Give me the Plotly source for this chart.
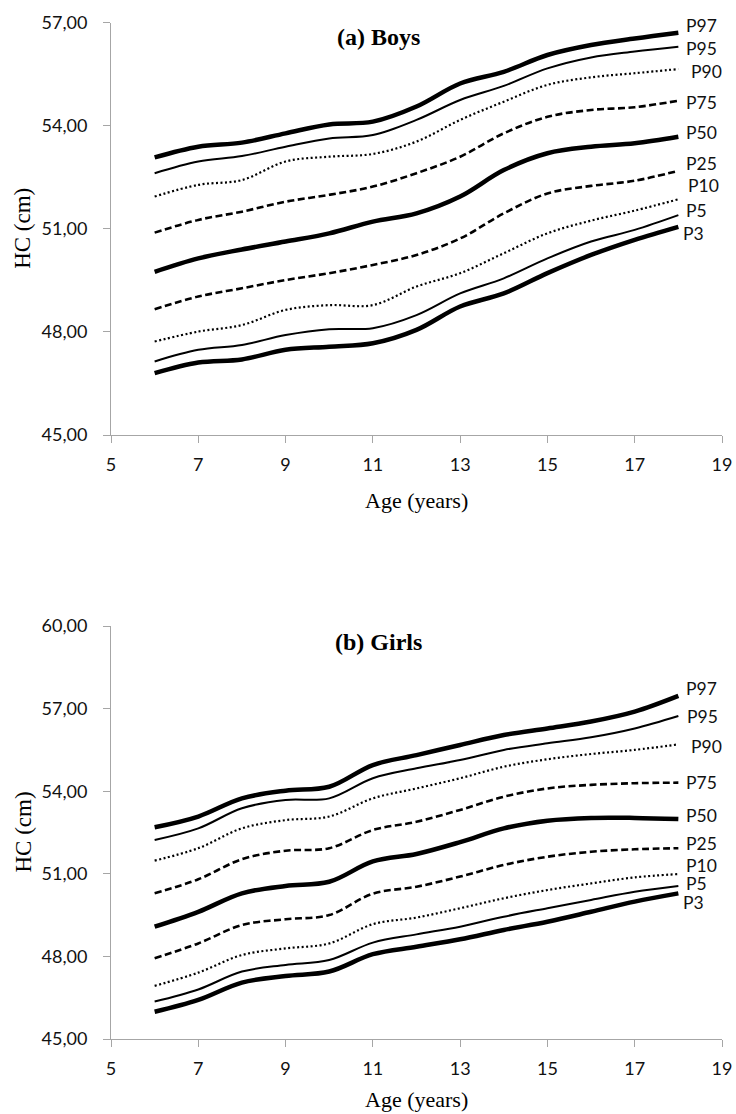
import plotly.graph_objects as go

ages = [6, 7, 8, 9, 10, 11, 12, 13, 14, 15, 16, 17, 18]
percentiles = ["P97", "P95", "P90", "P75", "P50", "P25", "P10", "P5", "P3"]

boys_p97 = [53.08, 53.39, 53.51, 53.78, 54.04, 54.12, 54.56, 55.23, 55.57, 56.06, 56.35, 56.54, 56.71]
boys_p95 = [52.62, 52.96, 53.12, 53.39, 53.63, 53.73, 54.17, 54.75, 55.16, 55.67, 55.99, 56.16, 56.30]
boys_p90 = [51.94, 52.28, 52.42, 52.96, 53.10, 53.18, 53.54, 54.17, 54.70, 55.19, 55.41, 55.53, 55.65]
boys_p75 = [50.89, 51.26, 51.50, 51.79, 51.99, 52.23, 52.62, 53.10, 53.78, 54.26, 54.46, 54.54, 54.73]
boys_p50 = [49.75, 50.14, 50.40, 50.63, 50.87, 51.21, 51.45, 51.94, 52.71, 53.20, 53.39, 53.49, 53.68]
boys_p25 = [48.66, 49.03, 49.27, 49.51, 49.71, 49.95, 50.24, 50.72, 51.45, 52.03, 52.25, 52.40, 52.69]
boys_p10 = [47.72, 48.01, 48.20, 48.64, 48.78, 48.78, 49.32, 49.71, 50.29, 50.87, 51.24, 51.53, 51.86]
boys_p5 = [47.14, 47.48, 47.62, 47.91, 48.08, 48.11, 48.49, 49.12, 49.56, 50.14, 50.63, 50.97, 51.40]
boys_p3 = [46.80, 47.11, 47.20, 47.48, 47.57, 47.67, 48.06, 48.74, 49.12, 49.71, 50.24, 50.68, 51.06]

girls_p97 = [52.69, 53.08, 53.74, 54.02, 54.16, 54.95, 55.31, 55.68, 56.04, 56.28, 56.53, 56.89, 57.46]
girls_p95 = [52.23, 52.65, 53.38, 53.68, 53.74, 54.47, 54.83, 55.13, 55.50, 55.74, 55.96, 56.28, 56.73]
girls_p90 = [51.48, 51.93, 52.65, 52.95, 53.08, 53.74, 54.10, 54.47, 54.89, 55.16, 55.35, 55.50, 55.70]
girls_p75 = [50.29, 50.80, 51.53, 51.84, 51.93, 52.59, 52.89, 53.32, 53.80, 54.10, 54.23, 54.29, 54.31]
girls_p50 = [49.08, 49.62, 50.29, 50.56, 50.71, 51.45, 51.72, 52.15, 52.65, 52.93, 53.03, 53.03, 52.99]
girls_p25 = [47.93, 48.47, 49.14, 49.35, 49.50, 50.28, 50.53, 50.90, 51.32, 51.62, 51.80, 51.89, 51.93]
girls_p10 = [46.93, 47.41, 48.05, 48.29, 48.47, 49.17, 49.41, 49.75, 50.11, 50.41, 50.65, 50.87, 50.99]
girls_p5 = [46.36, 46.80, 47.45, 47.69, 47.87, 48.50, 48.80, 49.08, 49.44, 49.75, 50.05, 50.35, 50.56]
girls_p3 = [45.99, 46.42, 47.05, 47.29, 47.45, 48.08, 48.35, 48.62, 48.96, 49.26, 49.62, 49.99, 50.29]

boys = [boys_p97, boys_p95, boys_p90, boys_p75, boys_p50, boys_p25, boys_p10, boys_p5, boys_p3]
girls = [girls_p97, girls_p95, girls_p90, girls_p75, girls_p50, girls_p25, girls_p10, girls_p5, girls_p3]

x_ticks = [5, 7, 9, 11, 13, 15, 17, 19]
boys_y_ticks = [45, 48, 51, 54, 57]
girls_y_ticks = [45, 48, 51, 54, 57, 60]

# styles
styles = {
    "P97": dict(width=4.5, dash="solid"),
    "P95": dict(width=2.0, dash="solid"),
    "P90": dict(width=2.2, dash="2px,2.5px"),
    "P75": dict(width=2.6, dash="7px,3.5px"),
    "P50": dict(width=4.5, dash="solid"),
    "P25": dict(width=2.6, dash="7px,3.5px"),
    "P10": dict(width=2.2, dash="2px,2.5px"),
    "P5": dict(width=2.0, dash="solid"),
    "P3": dict(width=4.5, dash="solid"),
}
boys_label_shift = {"P97": (6, 7), "P95": (6, -2), "P90": (11, -2), "P75": (6, -2), "P50": (6, 4),
                    "P25": (6, 7), "P10": (8, 14), "P5": (6, 5), "P3": (3, -7)}
girls_label_shift = {"P97": (6, 7), "P95": (7, 0), "P90": (11, -2), "P75": (6, 0), "P50": (6, 4),
                     "P25": (6, 5), "P10": (6, 9), "P5": (6, 2), "P3": (3, -9)}

W, H = 736, 1114
x_left, x_right = 111, 722
top_y0, top_y1 = 22.7, 435
bot_y0, bot_y1 = 626, 1039

fig = go.Figure()

for name, vals in zip(percentiles, boys):
    st = styles[name]
    fig.add_trace(go.Scatter(x=ages, y=vals, mode="lines", xaxis="x", yaxis="y",
                             line=dict(color="black", width=st["width"], dash=st["dash"],
                                       shape="spline", smoothing=1.0),
                             showlegend=False, name=name))
for name, vals in zip(percentiles, girls):
    st = styles[name]
    fig.add_trace(go.Scatter(x=ages, y=vals, mode="lines", xaxis="x2", yaxis="y2",
                             line=dict(color="black", width=st["width"], dash=st["dash"],
                                       shape="spline", smoothing=1.0),
                             showlegend=False, name=name))

lab_font = dict(family="Lato", size=17.5, color="#111")
annotations = []
for name, vals in zip(percentiles, boys):
    xs, ys = boys_label_shift[name]
    annotations.append(dict(x=ages[-1], y=vals[-1], xref="x", yref="y", text=name, showarrow=False,
                            xanchor="left", yanchor="middle", xshift=xs, yshift=ys, font=lab_font))
for name, vals in zip(percentiles, girls):
    xs, ys = girls_label_shift[name]
    annotations.append(dict(x=ages[-1], y=vals[-1], xref="x2", yref="y2", text=name, showarrow=False,
                            xanchor="left", yanchor="middle", xshift=xs, yshift=ys, font=lab_font))

serif = "Liberation Serif"
cx = (x_left + x_right) / 2 / W
annotations += [
    dict(x=378 / W, y=1 - 37 / H, xref="paper", yref="paper", text="<b>(a) Boys</b>", showarrow=False,
         xanchor="center", yanchor="middle", font=dict(family=serif, size=24, color="black")),
    dict(x=378 / W, y=1 - 642 / H, xref="paper", yref="paper", text="<b>(b) Girls</b>", showarrow=False,
         xanchor="center", yanchor="middle", font=dict(family=serif, size=24, color="black")),
    dict(x=cx, y=1 - 500 / H, xref="paper", yref="paper", text="Age (years)", showarrow=False,
         xanchor="center", yanchor="middle", font=dict(family=serif, size=22, color="black")),
    dict(x=cx, y=1 - 1099 / H, xref="paper", yref="paper", text="Age (years)", showarrow=False,
         xanchor="center", yanchor="middle", font=dict(family=serif, size=22, color="black")),
    dict(x=23 / W, y=1 - (top_y0 + top_y1) / 2 / H, xref="paper", yref="paper", text="HC (cm)",
         showarrow=False, textangle=-90, xanchor="center", yanchor="middle",
         font=dict(family=serif, size=23, color="black")),
    dict(x=23 / W, y=1 - (bot_y0 + bot_y1) / 2 / H, xref="paper", yref="paper", text="HC (cm)",
         showarrow=False, textangle=-90, xanchor="center", yanchor="middle",
         font=dict(family=serif, size=23, color="black")),
]

tick_font = dict(family="Lato", size=18, color="#111")
axis_common = dict(showgrid=False, zeroline=False, showline=True, linecolor="#a6a6a6", linewidth=1,
                   ticks="outside", tickcolor="#a6a6a6", ticklen=7, tickwidth=1, tickfont=tick_font,
                   automargin=False)

xdom = [x_left / W, x_right / W]
fig.update_layout(
    width=W, height=H, margin=dict(l=0, r=0, t=0, b=0),
    paper_bgcolor="white", plot_bgcolor="white",
    separators=", ",
    xaxis=dict(domain=xdom, range=[5, 19], tickvals=x_ticks, anchor="y", ticklabelstandoff=6, **axis_common),
    yaxis=dict(domain=[1 - top_y1 / H, 1 - top_y0 / H], range=[45, 57], tickvals=boys_y_ticks,
               tickformat=".2f", anchor="x", ticklabelstandoff=12, **axis_common),
    xaxis2=dict(domain=xdom, range=[5, 19], tickvals=x_ticks, anchor="y2", ticklabelstandoff=6, **axis_common),
    yaxis2=dict(domain=[1 - bot_y1 / H, 1 - bot_y0 / H], range=[45, 60], tickvals=girls_y_ticks,
                tickformat=".2f", anchor="x2", ticklabelstandoff=12, **axis_common),
    annotations=annotations,
)

fig.write_html("out.html")
